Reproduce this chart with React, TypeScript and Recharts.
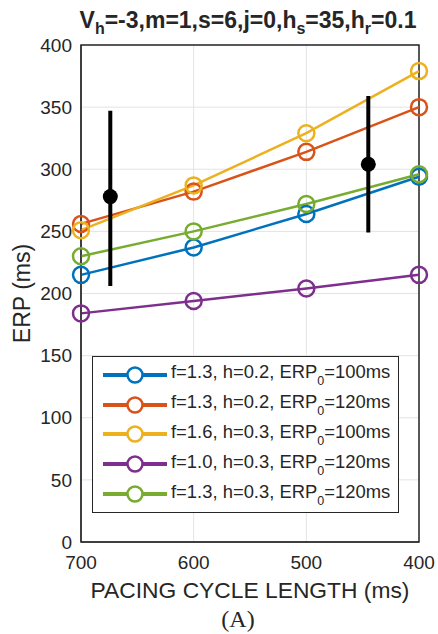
import * as React from 'react';
import {
  ComposedChart,
  Line,
  Scatter,
  ErrorBar,
  XAxis,
  YAxis,
  CartesianGrid,
  ReferenceArea,
  Label,
} from 'recharts';

const cycleLengths = [700, 600, 500, 400];
const yTicks = [0, 50, 100, 150, 200, 250, 300, 350, 400];

const erpF13H02E100 = [215, 237, 264, 294];
const erpF13H02E120 = [256, 282, 314, 350];
const erpF16H03E100 = [251, 287, 329, 379];
const erpF10H03E120 = [184, 194, 204, 215];
const erpF13H03E120 = [230, 250, 272, 296];

// measured ERP with spread: [below, above]
const measuredCl = [674, 445];
const measuredErp = [278, 304];
const measuredErr: [number, number][] = [[72, 69], [55, 55]];

const series = [
  { key: 'a', f: '1.3', h: '0.2', erp0: '100', color: '#0072BD', values: erpF13H02E100 },
  { key: 'b', f: '1.3', h: '0.2', erp0: '120', color: '#D95319', values: erpF13H02E120 },
  { key: 'c', f: '1.6', h: '0.3', erp0: '100', color: '#EDB120', values: erpF16H03E100 },
  { key: 'd', f: '1.0', h: '0.3', erp0: '120', color: '#7E2F8E', values: erpF10H03E120 },
  { key: 'e', f: '1.3', h: '0.3', erp0: '120', color: '#77AC30', values: erpF13H03E120 },
];

const measured = measuredCl.map((cl, i) => ({ cl, erp: measuredErp[i], err: measuredErr[i] }));

const font = '"Liberation Sans", Arial, Helvetica, sans-serif';
const ink = '#262626';

// legend drawn as an overlay box inside the plot area
function LegendBox() {
  return (
    <div
      style={{
        position: 'absolute',
        left: 92,
        top: 356,
        width: 307,
        height: 157,
        background: '#fff',
        border: `1.5px solid ${ink}`,
        boxSizing: 'border-box',
        paddingTop: 3,
        fontFamily: font,
        fontSize: 18.4,
        color: ink,
      }}
    >
      {series.map((s) => (
        <div key={s.key} style={{ display: 'flex', alignItems: 'center', height: 29.8 }}>
          <svg width={76} height={24} style={{ marginLeft: 8 }}>
            <line x1={2} y1={12} x2={66} y2={12} stroke={s.color} strokeWidth={4} />
            <circle cx={34} cy={12} r={7.5} fill="#fff" stroke={s.color} strokeWidth={2.5} />
          </svg>
          <span style={{ marginLeft: -6, whiteSpace: 'nowrap' }}>
            f={s.f}, h={s.h}, ERP
            <sub style={{ fontSize: 12.5, verticalAlign: -7 }}>0</sub>={s.erp0}ms
          </span>
        </div>
      ))}
    </div>
  );
}

export default function App() {
  return (
    <div style={{ position: 'absolute', left: 0, top: 0, width: 438, height: 634, background: '#fff' }}>
      <svg width={438} height={45} style={{ position: 'absolute', left: 0, top: 0 }}>
        <text x={248} y={28} textAnchor="middle" fontFamily={font} fontSize={23} fontWeight="bold" fill={ink}>
          V<tspan fontSize={16} dy={6}>h</tspan>
          <tspan dy={-6}>=-3,m=1,s=6,j=0,h</tspan>
          <tspan fontSize={16} dy={6}>s</tspan>
          <tspan dy={-6}>=35,h</tspan>
          <tspan fontSize={16} dy={6}>r</tspan>
          <tspan dy={-6}>=0.1</tspan>
        </text>
      </svg>
      <ComposedChart
        width={438}
        height={634}
        margin={{ top: 45, right: 19, bottom: 62, left: 21 }}
        style={{ fontFamily: font }}
      >
        <CartesianGrid stroke="#e3e3e3" strokeWidth={1} />
        <XAxis
          dataKey="cl"
          type="number"
          domain={[400, 700]}
          ticks={cycleLengths}
          reversed
          height={30}
          stroke={ink}
          tickLine={false}
          tickSize={0}
          tickMargin={14}
          tick={{ fill: ink, fontSize: 19 }}
        >
          <Label
            value="PACING CYCLE LENGTH (ms)"
            position="bottom"
            offset={10}
            style={{ fill: ink, fontSize: 22.8, fontFamily: font }}
          />
        </XAxis>
        <YAxis
          type="number"
          domain={[0, 400]}
          ticks={yTicks}
          width={60}
          stroke={ink}
          tickLine={false}
          tickSize={0}
          tickMargin={9}
          tick={{ fill: ink, fontSize: 19 }}
        >
          <Label
            value="ERP (ms)"
            angle={-90}
            position="insideLeft"
            offset={1}
            style={{ fill: ink, fontSize: 23, fontFamily: font, textAnchor: 'middle' }}
          />
        </YAxis>
        <ReferenceArea x1={400} x2={700} y1={0} y2={400} fill="none" stroke={ink} strokeWidth={1.5} />
        {series.map((s) => (
          <Line
            key={s.key}
            data={cycleLengths.map((cl, i) => ({ cl, erp: s.values[i] }))}
            dataKey="erp"
            stroke={s.color}
            strokeWidth={2.5}
            dot={{ r: 8, fill: 'none', stroke: s.color, strokeWidth: 2.5 }}
            isAnimationActive={false}
          />
        ))}
        <Scatter
          data={measured}
          dataKey="erp"
          fill="#000"
          isAnimationActive={false}
          shape={(p: any) => <circle cx={p.cx} cy={p.cy} r={7.5} fill="#000" />}
        >
          <ErrorBar dataKey="err" direction="y" width={0} stroke="#000" strokeWidth={4} />
        </Scatter>
      </ComposedChart>
      <LegendBox />
      <svg width={438} height={30} style={{ position: 'absolute', left: 0, top: 604 }}>
        <text x={238} y={23} textAnchor="middle" fontFamily='"Liberation Serif", "Times New Roman", serif' fontSize={24} fill={ink}>
          (A)
        </text>
      </svg>
    </div>
  );
}
